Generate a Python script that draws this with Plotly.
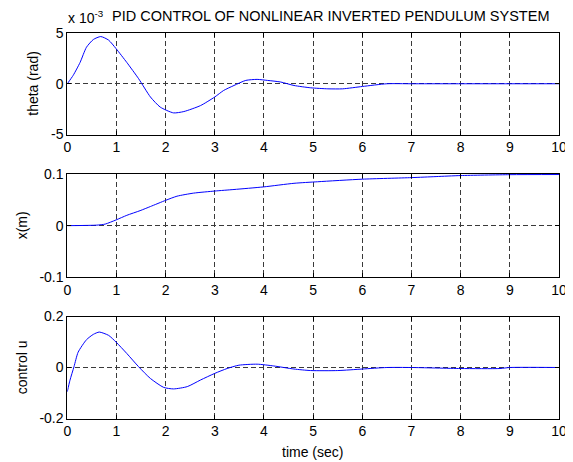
import plotly.graph_objects as go
from plotly.subplots import make_subplots

# ---- data ----
t_theta = [0, 0.12, 0.26, 0.39, 0.53, 0.68, 0.84, 0.99, 1.21, 1.45, 1.69, 1.89, 2.16, 2.37,
           2.71, 3.0, 3.18, 3.39, 3.63, 3.86, 4.07, 4.34, 4.61, 4.95, 5.3, 5.6, 6.0, 6.5,
           7, 8, 9, 10]
theta = [0, 0.83e-3, 2.1e-3, 3.6e-3, 4.36e-3, 4.65e-3, 4.3e-3, 3.47e-3, 2.1e-3, 0.5e-3,
         -1.3e-3, -2.3e-3, -2.87e-3, -2.74e-3, -2.15e-3, -1.3e-3, -0.66e-3, -0.17e-3,
         0.33e-3, 0.43e-3, 0.33e-3, 0.17e-3, -0.17e-3, -0.4e-3, -0.5e-3, -0.5e-3,
         -0.27e-3, 0, 0, 0, 0, 0]

t_x = [0, 0.6, 0.77, 0.99, 1.21, 1.48, 1.69, 2.0, 2.23, 2.57, 3.0, 3.39, 3.99, 4.61, 5.09,
       6, 7, 7.5, 8, 9, 10]
x_m = [0, 0.001, 0.003, 0.011, 0.02, 0.029, 0.037, 0.049, 0.057, 0.063, 0.067, 0.07,
       0.075, 0.082, 0.085, 0.09, 0.093, 0.095, 0.097, 0.0987, 0.099]

t_u = [0, 0.054, 0.136, 0.22, 0.39, 0.53, 0.65, 0.84, 0.99, 1.21, 1.45, 1.69, 1.96, 2.16,
       2.44, 2.71, 3.0, 3.25, 3.49, 3.86, 4.2, 4.61, 4.95, 5.5, 6.0, 6.5, 7, 8, 8.8, 9, 10]
u = [-0.095, -0.05, 0.003, 0.06, 0.109, 0.13, 0.139, 0.126, 0.1, 0.055, 0.003, -0.043,
     -0.078, -0.084, -0.075, -0.049, -0.023, -0.004, 0.009, 0.013, 0.006, -0.006, -0.012,
     -0.012, -0.006, 0, 0, -0.004, -0.004, 0, 0]

x_ticks = list(range(0, 11))
theta_ticks = [-0.005, 0, 0.005]
theta_ticktext = ["-5", "0", "5"]
x_ticks_y = [-0.1, 0, 0.1]
u_ticks = [-0.2, 0, 0.2]

title = "PID CONTROL OF NONLINEAR INVERTED PENDULUM SYSTEM"
ylabels = ["theta (rad)", "x(m)", "control u"]
xlabel = "time (sec)"

# The page body has an 8px margin, so the figure is drawn 8px smaller and
# all reference pixel positions are shifted by that offset.
OFF = 8
W, H = 573 - OFF, 462 - OFF
FONT = "Liberation Sans, Arial, Helvetica, sans-serif"
FS = 14


def fx(px):
    return (px - OFF) / W


def fy(py):
    return 1 - (py - OFF) / H


fig = make_subplots(rows=3, cols=1)
line = dict(color="#0000ff", width=1)
fig.add_trace(go.Scatter(x=t_theta, y=theta, mode="lines", line=line, line_shape="spline",
                         line_smoothing=0.6), 1, 1)
fig.add_trace(go.Scatter(x=t_x, y=x_m, mode="lines", line=line, line_shape="spline",
                         line_smoothing=0.6), 2, 1)
fig.add_trace(go.Scatter(x=t_u, y=u, mode="lines", line=line, line_shape="spline",
                         line_smoothing=0.6), 3, 1)

xdom = [fx(67.3), fx(559)]
ydoms = [[fy(134.5), fy(33)], [fy(277.3), fy(174)], [fy(418.5), fy(316.5)]]

axis_common = dict(
    automargin=False,
    showline=True, linecolor="black", linewidth=1, mirror="ticks",
    ticks="inside", ticklen=4, tickwidth=1, tickcolor="black",
    showgrid=True, gridcolor="#3a3a3a", gridwidth=0.8, griddash="5px,3px",
    zeroline=False, tickfont=dict(family=FONT, size=FS, color="black"),
)

yranges = [[-0.005, 0.005], [-0.1, 0.1], [-0.2, 0.2]]
yticks = [theta_ticks, x_ticks_y, u_ticks]
ytext = [theta_ticktext, ["-0.1", "0", "0.1"], ["-0.2", "0", "0.2"]]

for i in range(3):
    xa = "xaxis" if i == 0 else f"xaxis{i+1}"
    ya = "yaxis" if i == 0 else f"yaxis{i+1}"
    fig.update_layout(**{
        xa: dict(axis_common, domain=xdom, range=[0, 10], tickvals=x_ticks),
        ya: dict(axis_common, domain=ydoms[i], range=yranges[i], tickvals=yticks[i],
                 ticktext=ytext[i]),
    })

annots = [
    dict(text=title, x=fx(330), y=fy(16.5), xanchor="center", yanchor="middle",
         showarrow=False, xref="paper", yref="paper",
         font=dict(family=FONT, size=14.5, color="black")),
    dict(text="x 10<sup>-3</sup>", x=fx(66), y=fy(17), xanchor="left", yanchor="middle",
         showarrow=False, xref="paper", yref="paper", font=dict(family=FONT, size=FS, color="black")),
    dict(text=xlabel, x=fx(312), y=fy(451.5), xanchor="center", yanchor="middle",
         showarrow=False, xref="paper", yref="paper", font=dict(family=FONT, size=FS, color="black")),
]
ylab_x = [33, 21.7, 21.7]
for i in range(3):
    annots.append(dict(text=ylabels[i], x=fx(ylab_x[i]), y=sum(ydoms[i]) / 2, textangle=-90,
                       xanchor="center", yanchor="middle", showarrow=False,
                       xref="paper", yref="paper",
                       font=dict(family=FONT, size=FS, color="black")))

fig.update_layout(
    template="none",
    width=W, height=H, margin=dict(l=0, r=0, t=0, b=0),
    paper_bgcolor="white", plot_bgcolor="white", showlegend=False,
    annotations=annots,
)

fig.write_html("out.html")
